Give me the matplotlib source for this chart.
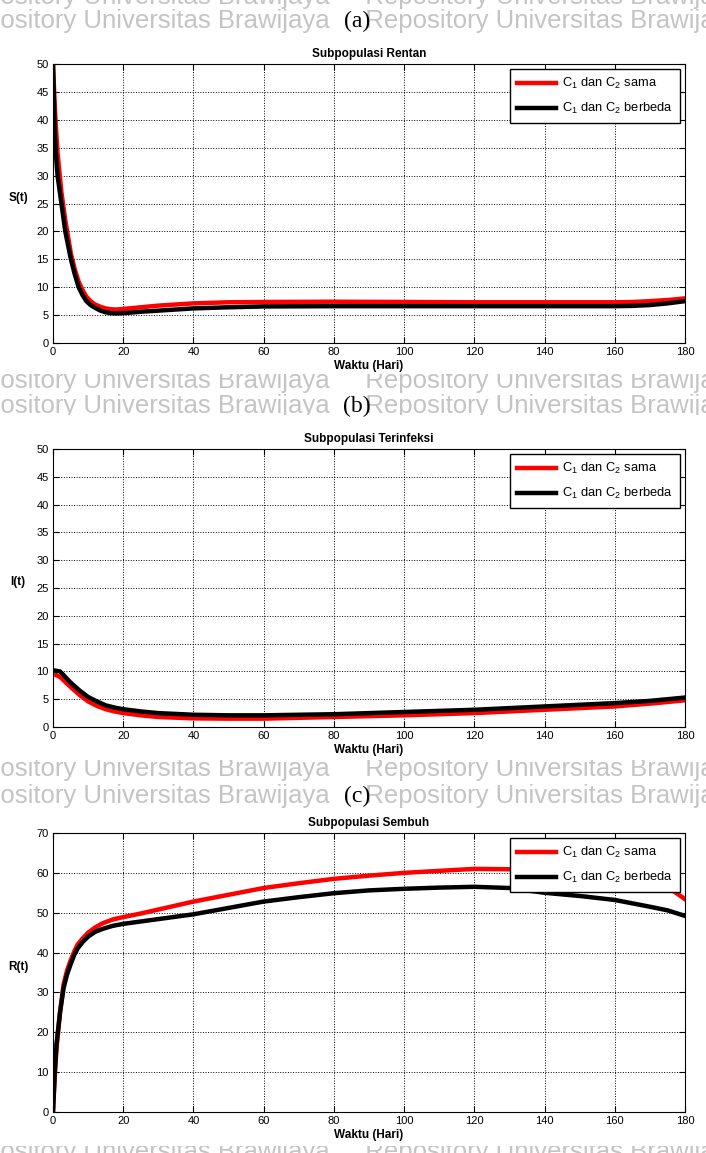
import matplotlib
matplotlib.use("Agg")
import matplotlib.pyplot as plt
from matplotlib.patches import Rectangle

plt.rcParams['font.family'] = ['Liberation Sans Narrow', 'Liberation Sans', 'DejaVu Sans']
plt.rcParams['mathtext.default'] = 'regular'

W, H = 706, 1153

# S(t): susceptible subpopulation
t_s = [0, 0.2, 0.4, 0.7, 1.3, 2.4, 3.5, 5.1, 6.2, 7.3, 8.4, 9.5, 10.7, 12, 13.5, 15, 16.5, 18,
       20, 25, 30, 40, 50, 60, 80, 100, 120, 140, 160, 165, 170, 175, 180]
s_sama = [50, 47, 44, 40, 34, 27, 22, 16, 13.2, 11, 9.5, 8.3, 7.5, 6.9, 6.5, 6.2, 6.05, 6.0,
          6.1, 6.4, 6.7, 7.1, 7.3, 7.35, 7.4, 7.35, 7.3, 7.3, 7.3, 7.35, 7.5, 7.7, 8.0]
s_beda = [50, 45, 40, 35, 30, 25, 20, 15, 12.3, 10, 8.6, 7.5, 6.8, 6.3, 5.8, 5.5, 5.35, 5.3,
          5.35, 5.6, 5.8, 6.2, 6.4, 6.55, 6.6, 6.6, 6.6, 6.6, 6.6, 6.65, 6.8, 7.1, 7.5]

# I(t): infected subpopulation
t_i = [0, 2, 5, 7.5, 10, 12.5, 15, 17.5, 20, 25, 30, 40, 50, 60, 80, 100, 120, 140, 160, 170, 180]
i_sama = [9.6, 9.0, 7.2, 5.8, 4.6, 3.8, 3.2, 2.8, 2.5, 2.1, 1.8, 1.55, 1.5, 1.5, 1.8, 2.1, 2.5,
          3.1, 3.7, 4.2, 4.8]
i_beda = [10.2, 10.0, 8.0, 6.6, 5.4, 4.6, 3.9, 3.5, 3.2, 2.8, 2.5, 2.2, 2.1, 2.1, 2.3, 2.7, 3.1,
          3.7, 4.3, 4.7, 5.3]

# R(t): recovered subpopulation
t_r = [0, 0.5, 1, 2, 3, 4, 5, 6, 7, 8.5, 10, 12, 14, 17, 20, 25, 30, 40, 50, 60, 70, 80, 90,
       100, 110, 120, 130, 140, 150, 160, 170, 175, 180]
r_sama = [0, 9, 16, 25, 32, 35.5, 38, 40.2, 42, 43.6, 45, 46.3, 47.3, 48.3, 48.9, 49.8, 50.8,
          52.8, 54.5, 56.2, 57.4, 58.5, 59.3, 60.0, 60.5, 61.0, 60.9, 60.6, 60.2, 59.3, 57.8,
          56.5, 53.4]
r_beda = [0, 10, 17, 25, 31, 34.5, 37, 39.3, 41, 42.7, 44, 45.2, 45.9, 46.7, 47.2, 47.8, 48.4,
          49.6, 51.2, 52.8, 53.9, 54.9, 55.6, 56.0, 56.3, 56.5, 56.2, 55.0, 54.2, 53.2, 51.5,
          50.6, 49.2]

legend_labels = ['C$_1$ dan C$_2$ sama', 'C$_1$ dan C$_2$ berbeda']
xticks = list(range(0, 181, 20))

panels = [
    ('(a)', 'Subpopulasi Rentan', 'S(t)', t_s, s_sama, s_beda, 50, 5, 64, 343, 21),
    ('(b)', 'Subpopulasi Terinfeksi', 'I(t)', t_i, i_sama, i_beda, 50, 5, 449, 727, 406),
    ('(c)', 'Subpopulasi Sembuh', 'R(t)', t_r, r_sama, r_beda, 70, 10, 833, 1112, 796),
]

fig = plt.figure(figsize=(W / 100, H / 100), dpi=100)

# repository watermark behind the charts
wm = 'Repository Universitas Brawijaya     Repository Universitas Brawijaya'
for yc in [-3, 21, 381, 406, 769, 796, 1152]:
    fig.text(-47 / W, 1 - yc / H, wm, fontsize=18.5, color='#c4c4c4', va='center', ha='left',
             family=['Liberation Sans', 'DejaVu Sans'], zorder=-3)

# white background of each chart image
for top, bot in [(33, 374), (415, 760), (808, 1146)]:
    fig.patches.append(Rectangle((0, 1 - bot / H), 1, (bot - top) / H, transform=fig.transFigure,
                                 facecolor='white', edgecolor='none', zorder=-2))

for tag, title, ylab, t, y1, y2, ymax, ystep, top, bot, tag_y in panels:
    ax = fig.add_axes([53 / W, 1 - bot / H, 632 / W, (bot - top) / H])
    ax.plot(t, y1, color='red', lw=3.2, label=legend_labels[0])
    ax.plot(t, y2, color='black', lw=3.2, label=legend_labels[1])
    ax.set_xlim(0, 180)
    ax.set_ylim(0, ymax)
    ax.set_xticks(xticks)
    ax.set_yticks(list(range(0, ymax + 1, ystep)))
    ax.grid(True, linestyle=':', color='black', lw=0.7)
    ax.tick_params(direction='in', top=True, right=True, length=4, width=0.8, labelsize=8, pad=3)
    for sp in ax.spines.values():
        sp.set_linewidth(0.8)
    ax.set_title(title, fontsize=8.5, fontweight='bold', pad=5)
    ax.set_xlabel('Waktu (Hari)', fontsize=8.5, fontweight='bold', labelpad=2)
    ax.set_ylabel(ylab, fontsize=8.5, fontweight='bold', rotation=0, va='center', ha='center')
    ax.yaxis.set_label_coords(-0.055, 0.52)
    ax.legend(loc='upper right', fontsize=9.3, fancybox=False, edgecolor='black', framealpha=1,
              handlelength=3.0, handletextpad=0.45, borderaxespad=0.4, labelspacing=0.75,
              borderpad=0.55)
    fig.text(357 / W, 1 - tag_y / H, tag, fontsize=17, ha='center', va='center',
             family=['Liberation Serif', 'DejaVu Serif'], zorder=3)

fig.savefig('out.png', dpi=100)
